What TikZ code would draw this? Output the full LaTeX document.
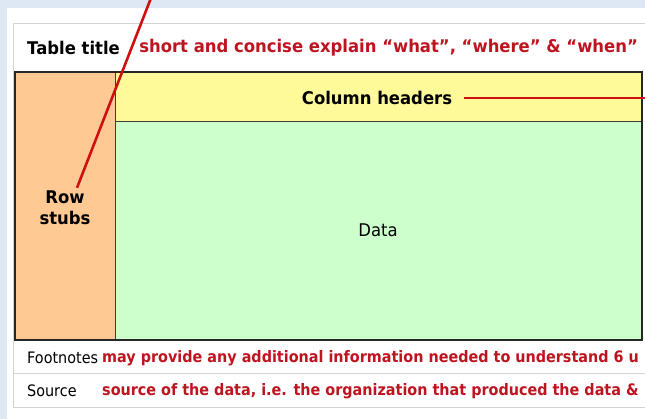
\documentclass[tikz,border=0pt]{standalone}
\usepackage{fontspec}
\setmainfont{DejaVu Sans}
\newfontfamily\tabfont[FakeStretch=0.94]{DejaVu Sans}
\newfontfamily\notefont[FakeStretch=0.91]{DejaVu Sans}
\usepackage{xcolor}
\usetikzlibrary{positioning}

\definecolor{pagebg}{HTML}{DDE8F4}
\definecolor{stubfill}{HTML}{FFC994}
\definecolor{headfill}{HTML}{FFFA99}
\definecolor{datafill}{HTML}{CCFFCC}
\definecolor{notered}{HTML}{BE1420}
\definecolor{pointred}{HTML}{D01010}
\definecolor{framegray}{HTML}{D4D4D4}
\definecolor{cellline}{HTML}{3C3C3C}

\begin{document}
\begin{tikzpicture}[x=1pt, y=-1pt,
    cell/.style={draw=cellline, line width=1.3pt, inner sep=0pt, anchor=north west},
    boldtext/.style={inner sep=0pt, align=center, font=\tabfont\fontsize{17.5}{21}\selectfont\bfseries},
    plaintext/.style={inner sep=0pt, align=center, font=\tabfont\fontsize{17.5}{21}\selectfont},
    redtext/.style={inner sep=0pt, anchor=west, text=notered, font=\tabfont\fontsize{17.5}{21}\selectfont\bfseries},
    notetext/.style={inner sep=0pt, anchor=west, font=\notefont\fontsize{15.8}{19}\selectfont},
    noteredtext/.style={notetext, text=notered, font=\notefont\fontsize{15.8}{19}\selectfont\bfseries},
    pointer/.style={draw=pointred, line width=2.6pt}
]
\useasboundingbox (0,0) rectangle (645,419);
\clip (0,0) rectangle (645,419);
\fill[pagebg] (0,0) rectangle (645,419);
\fill[white] (7,8) rectangle (660,425);
\draw[framegray, line width=1pt] (13,24) rectangle (660,407);
\draw[framegray, line width=1pt] (13,374) -- (660,374);

% title row
\node[boldtext, anchor=west] (title) at (27,48) {Table title};
\node[redtext, right=19pt of title] (titlenote) {short and concise explain “what”, “where” \& “when”};

% table body
\node[cell, fill=stubfill, minimum width=100pt, minimum height=267pt] (stubs) at (15,72) {};
\node[cell, fill=headfill, minimum width=526pt, minimum height=49pt] (header) at (115,72) {};
\node[cell, fill=datafill, minimum width=526pt, minimum height=218pt] (data) at (115,121) {};
\draw[black!85, line width=2.2pt] (stubs.north west) rectangle (data.south east);

\node[boldtext] (stubtext) at (65,208) {Row\\stubs};
\node[boldtext] (headtext) at (377,98) {Column headers};
\node[plaintext] (datatext) at (378,230) {Data};

% footer rows
\node[notetext] (notes) at (27,358) {Footnotes};
\node[noteredtext] (notestext) at (102,358) {may provide any additional information needed to understand 6 u};
\node[notetext] (source) at (27,391) {Source};
\node[noteredtext] (sourcetext) at (102,391) {source of the data, i.e. the organization that produced the data \&};

% pointers
\coordinate (rowtip) at (151,-2);
\coordinate (headtip) at (655,98);
\draw[pointer] ([xshift=12pt,yshift=3pt]stubtext.north) -- (rowtip);
\draw[pointer] ([xshift=12pt]headtext.east) -- (headtip);
\end{tikzpicture}
\end{document}
